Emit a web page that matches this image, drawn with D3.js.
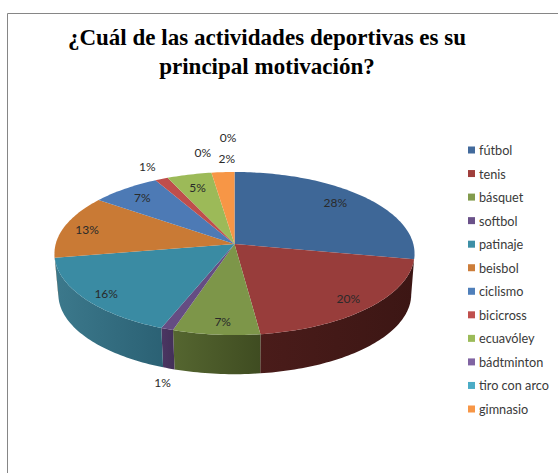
<!DOCTYPE html>
<html>
<head>
<meta charset="utf-8">
<script src="https://cdn.jsdelivr.net/npm/d3@7"></script>
<style>
    html, body { margin: 0; padding: 0; background: #fff; }
    svg { display: block; }
    .title { font-family: "Liberation Serif", serif; font-weight: bold; font-size: 23px; letter-spacing: 0.02px; fill: #000; text-anchor: middle; }
    .lbl { font-family: Lato, sans-serif; font-size: 12px; fill: #2a2a2a; text-anchor: middle; dominant-baseline: central; }
    .leg { font-family: Lato, sans-serif; font-size: 12.7px; fill: #3a3a3a; dominant-baseline: central; }
</style>
</head>
<body>
<svg id="chart" width="558" height="473"></svg>
<script>
const titleLines = ["¿Cuál de las actividades deportivas es su", "principal motivación?"];
const categories = ["fútbol", "tenis", "básquet", "softbol", "patinaje", "beisbol", "ciclismo", "bicicross", "ecuavóley", "bádtminton", "tiro con arco", "gimnasio"];
const values = [28, 20, 7, 1, 16.4, 12.6, 7, 1.3, 4.5, 0, 0, 2.3];
const colors = ["#3e6797", "#983d3b", "#7d9649", "#654d83", "#3a8ba3", "#c97a35", "#4d7ab5", "#bf4e4c", "#9cba58", "#8064a2", "#4bacc6", "#f79646"];
const legendColors = ["#426a9c", "#a03f3c", "#829b4d", "#6a5189", "#3d8fa6", "#cc7d3a", "#4f7fba", "#c0504d", "#9bbb59", "#8064a2", "#4bacc6", "#f79646"];
const sideLeft = ["#2c4a6e", "#4a1c1a", "#556630", "#4b3663", "#3c798c", "#8f5725", "#365a87", "#8a3836", "#6f8640", "#5c4875", "#357f92", "#b56e32"];
const sideRight = ["#2c4a6e", "#3c1614", "#3f4c21", "#433058", "#2b6174", "#8f5725", "#365a87", "#8a3836", "#6f8640", "#5c4875", "#357f92", "#b56e32"];
// label placement, as fraction of the pie radius and nudge in degrees
const labelRadius = [0.81, 0.865, 0.87, 1.47, 0.88, 0.86, 0.83, 1.22, 0.8, 1.32, 1.56, 1.21];
const labelNudge = [-2.6, 0.4, -1.3, -6.4, -1.3, -1.1, 0, 0, 0, -0.6, 6.7, 1.8];

const svg = d3.select("#chart");

// chart frame, only top and left edges fall inside the picture
svg.append("path")
    .attr("d", "M7.5,473V13.5H558")
    .attr("fill", "none")
    .attr("stroke", "#868686")
    .attr("stroke-width", 1);

svg.selectAll(".title")
    .data(titleLines)
    .enter()
    .append("text")
    .attr("class", "title")
    .attr("x", 267)
    .attr("y", (d, i) => 45 + i * 29)
    .text(d => d);

// perspective pie: the apex sits above the centre of the ellipse
const apex = { x: 234.5, y: 244 };
const tilt = 0.1166;
const radiusX = 178.8;
const radiusY = 80.4;
const base = { x: 234.8, y: 285, k: 0.98 };

function project(angle, r, origin) {
    const u = r * Math.sin(angle);
    const v = -r * Math.cos(angle);
    const w = 1 - tilt * v;
    const o = origin || { x: apex.x, y: apex.y, k: 1 };
    return [o.x + o.k * radiusX * u / w, o.y + o.k * radiusY * v / w];
}

const pie = d3.pie().sort(null).value(d => d);
const arcs = pie(values);
const line = d3.line();

function sample(a0, a1) {
    const n = Math.max(2, Math.ceil((a1 - a0) / 0.02));
    return d3.range(n + 1).map(i => a0 + (a1 - a0) * i / n);
}

const defs = svg.append("defs");
arcs.forEach((d, i) => {
    const grad = defs.append("linearGradient").attr("id", "side" + i);
    grad.append("stop").attr("offset", "0%").attr("stop-color", sideLeft[i]);
    grad.append("stop").attr("offset", "100%").attr("stop-color", sideRight[i]);
});

// only the front of the wall shows, between the two silhouette points
const frontFrom = Math.acos(-tilt);
const frontTo = 2 * Math.PI - frontFrom;

svg.append("g")
    .selectAll("path")
    .data(arcs.filter(d => d.value > 0 && d.endAngle > frontFrom && d.startAngle < frontTo))
    .enter()
    .append("path")
    .attr("fill", d => `url(#side${d.index})`)
    .attr("d", d => {
        const a0 = Math.max(d.startAngle, frontFrom);
        const a1 = Math.min(d.endAngle, frontTo);
        const angles = sample(a0, a1);
        const top = angles.map(a => project(a, 1));
        const bottom = angles.slice().reverse().map(a => project(a, 1, base));
        return line(top.concat(bottom)) + "Z";
    });

svg.append("g")
    .selectAll("path")
    .data(arcs.filter(d => d.value > 0))
    .enter()
    .append("path")
    .attr("fill", d => colors[d.index])
    .attr("d", d => {
        const rim = sample(d.startAngle, d.endAngle).map(a => project(a, 1));
        return line([[apex.x, apex.y]].concat(rim)) + "Z";
    });

svg.append("g")
    .selectAll("text")
    .data(arcs)
    .enter()
    .append("text")
    .attr("class", "lbl")
    .attr("transform", d => {
        const mid = (d.startAngle + d.endAngle) / 2 + labelNudge[d.index] * Math.PI / 180;
        return `translate(${project(mid, labelRadius[d.index])})`;
    })
    .text(d => Math.round(d.value) + "%");

const legendY = d3.scalePoint()
    .domain(categories)
    .range([150, 409]);

const legend = svg.append("g")
    .selectAll("g")
    .data(categories)
    .enter()
    .append("g")
    .attr("transform", d => `translate(468,${legendY(d)})`);

legend.append("rect")
    .attr("y", -3.5)
    .attr("width", 7)
    .attr("height", 7)
    .attr("fill", (d, i) => legendColors[i]);

legend.append("text")
    .attr("class", "leg")
    .attr("x", 11)
    .text(d => d);
</script>
</body>
</html>
